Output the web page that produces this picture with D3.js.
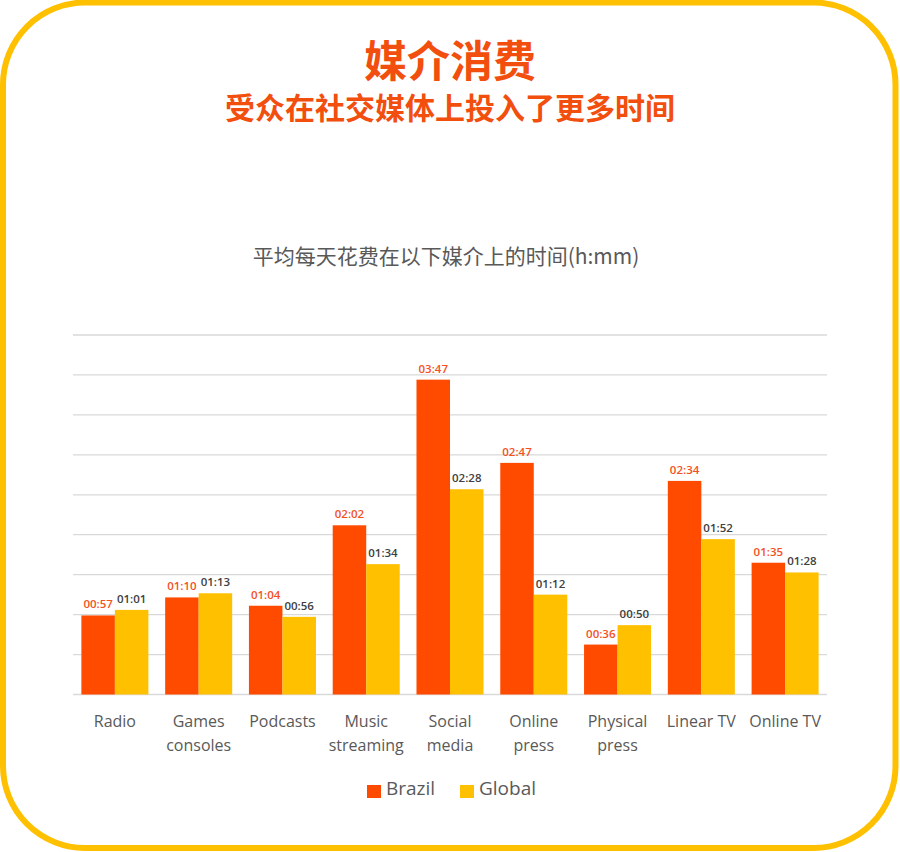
<!DOCTYPE html>
<html>
<head>
<meta charset="utf-8">
<script src="https://cdn.jsdelivr.net/npm/d3@7"></script>
<style>
  html, body { margin: 0; padding: 0; background: #fff; }
  svg { display: block; }
</style>
</head>
<body>
<script>
// values in minutes per day
var categories = ["Radio", "Games\nconsoles", "Podcasts", "Music\nstreaming", "Social\nmedia",
                  "Online\npress", "Physical\npress", "Linear TV", "Online TV"];
var brazilMinutes = [57, 70, 64, 122, 227, 167, 36, 154, 95];
var globalMinutes = [61, 73, 56, 94, 148, 72, 50, 112, 88];
var seriesNames = ["Brazil", "Global"];
// gridlines sit on fractions of a day (Excel time axis)
var gridDays = [0, 0.02, 0.04, 0.06, 0.08, 0.10, 0.12, 0.14, 0.16, 0.18];

var W = 900, H = 852;
var COLORS = { Brazil: "#FF4B00", Global: "#FFC000" };
var LABEL_COLORS = { Brazil: "#F4511E", Global: "#404040" };
var FONT = "'Open Sans', 'Noto Sans', sans-serif";
var CJK = "'Noto Sans CJK SC', sans-serif";

var svg = d3.select("body").append("svg")
    .attr("width", W)
    .attr("height", H);

// frame
svg.append("rect")
    .attr("x", 3).attr("y", 2.5)
    .attr("width", 892.5).attr("height", 845.5)
    .attr("rx", 82).attr("ry", 82)
    .style("fill", "#fff")
    .style("stroke", "#FFC000")
    .style("stroke-width", 6);

// titles
svg.append("text")
    .attr("x", 450).attr("y", 77)
    .attr("text-anchor", "middle")
    .style("font-family", CJK).style("font-weight", 700)
    .style("font-size", "43px").style("fill", "#F24E0E")
    .text("媒介消费");

svg.append("text")
    .attr("x", 450).attr("y", 119)
    .attr("text-anchor", "middle")
    .style("font-family", CJK).style("font-weight", 700)
    .style("font-size", "30px").style("fill", "#F24E0E")
    .text("受众在社交媒体上投入了更多时间");

svg.append("text")
    .attr("x", 446).attr("y", 264)
    .attr("text-anchor", "middle")
    .style("font-family", CJK).style("font-weight", 400)
    .style("font-size", "21px").style("fill", "#595959")
    .text("平均每天花费在以下媒介上的时间(h:mm)");

// scales
var x0 = d3.scaleBand()
    .domain(categories)
    .range([73, 827])
    .paddingInner(0.2)
    .paddingOuter(0.1);

var x1 = d3.scaleBand()
    .domain(seriesNames)
    .range([0, x0.bandwidth()]);

var y = d3.scaleLinear()
    .domain([0, 0.18 * 1440])
    .range([694.5, 335]);

// gridlines
svg.append("g").selectAll("line")
    .data(gridDays)
    .enter().append("line")
    .attr("x1", 73).attr("x2", 827)
    .attr("y1", function(d) { return y(d * 1440); })
    .attr("y2", function(d) { return y(d * 1440); })
    .style("stroke", "#D9D9D9")
    .style("stroke-width", 1.3);

// bars
var rows = categories.map(function(c, i) {
    return { cat: c, values: [
        { key: "Brazil", v: brazilMinutes[i] },
        { key: "Global", v: globalMinutes[i] }
    ]};
});

var groups = svg.append("g").selectAll(".grp")
    .data(rows)
    .enter().append("g")
    .attr("class", "grp")
    .attr("transform", function(d) { return "translate(" + x0(d.cat) + ",0)"; });

groups.selectAll("rect")
    .data(function(d) { return d.values; })
    .enter().append("rect")
    .attr("x", function(d) { return x1(d.key); })
    .attr("y", function(d) { return y(d.v); })
    .attr("width", x1.bandwidth())
    .attr("height", function(d) { return y(0) - y(d.v); })
    .style("fill", function(d) { return COLORS[d.key]; });

function fmt(m) {
    var h = Math.floor(m / 60), mm = m % 60;
    return (h < 10 ? "0" : "") + h + ":" + (mm < 10 ? "0" : "") + mm;
}

groups.selectAll(".val")
    .data(function(d) { return d.values; })
    .enter().append("text")
    .attr("class", "val")
    .attr("x", function(d) { return x1(d.key) + x1.bandwidth() / 2; })
    .attr("y", function(d) { return y(d.v) - 7; })
    .attr("text-anchor", "middle")
    .style("font-family", FONT).style("font-weight", 600)
    .style("font-size", "11.5px")
    .style("fill", function(d) { return LABEL_COLORS[d.key]; })
    .text(function(d) { return fmt(d.v); });

// category axis
var xAxis = svg.append("g")
    .attr("transform", "translate(0,694.5)")
    .call(d3.axisBottom(x0).tickSize(0).tickFormat(""));
xAxis.select(".domain").remove();

xAxis.selectAll(".tick").append("text")
    .attr("text-anchor", "middle")
    .style("font-family", FONT).style("font-size", "16px")
    .style("fill", "#595959")
    .selectAll("tspan")
    .data(function(d) { return d.split("\n"); })
    .enter().append("tspan")
    .attr("x", 0)
    .attr("y", function(d, i) { return 32 + i * 24; })
    .text(function(d) { return d; });

// legend
var legend = svg.append("g").attr("transform", "translate(367,788)");
var legX = [0, 93];
seriesNames.forEach(function(s, i) {
    var g = legend.append("g").attr("transform", "translate(" + legX[i] + ",0)");
    g.append("rect")
        .attr("x", 0).attr("y", -3)
        .attr("width", 14).attr("height", 13)
        .style("fill", COLORS[s]);
    g.append("text")
        .attr("x", 19).attr("y", 7)
        .style("font-family", FONT).style("font-size", "19px")
        .style("fill", "#595959")
        .text(s);
});
</script>
</body>
</html>
